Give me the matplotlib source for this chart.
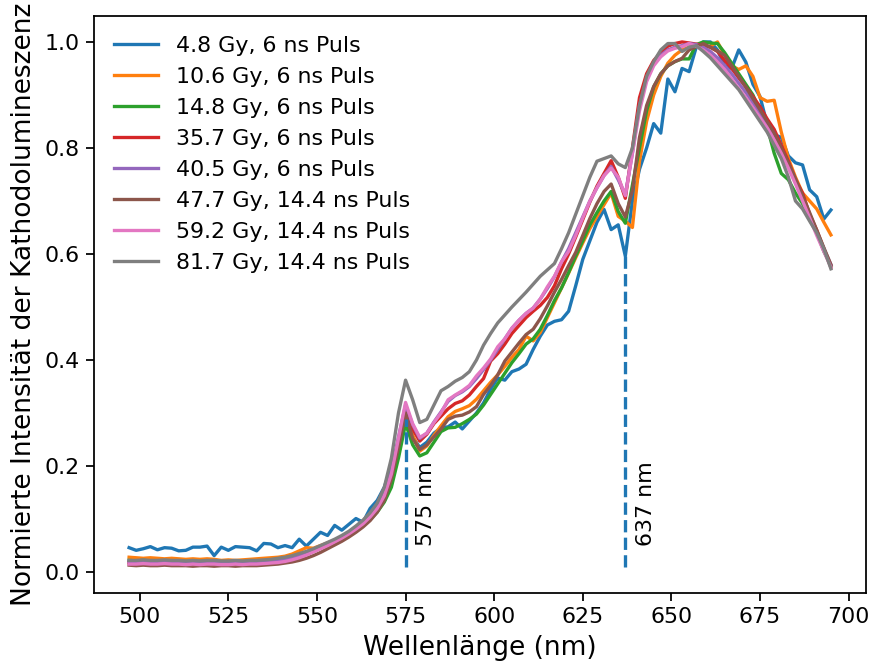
import numpy as np
import matplotlib
matplotlib.use("Agg")
import matplotlib.pyplot as plt

# Wellenlaenge in nm (2 nm Schritte)
wl = np.arange(497, 697, 2)

labels = ["4.8 Gy, 6 ns Puls", "10.6 Gy, 6 ns Puls", "14.8 Gy, 6 ns Puls",
          "35.7 Gy, 6 ns Puls", "40.5 Gy, 6 ns Puls", "47.7 Gy, 14.4 ns Puls",
          "59.2 Gy, 14.4 ns Puls", "81.7 Gy, 14.4 ns Puls"]

gy4_8 = [0.046, 0.041, 0.044, 0.048, 0.042, 0.046, 0.045, 0.040, 0.041, 0.047,
         0.047, 0.049, 0.031, 0.047, 0.041, 0.048, 0.047, 0.046, 0.040, 0.054,
         0.053, 0.046, 0.050, 0.046, 0.062, 0.049, 0.062, 0.075, 0.069, 0.088,
         0.079, 0.090, 0.101, 0.094, 0.120, 0.135, 0.160, 0.200, 0.245, 0.288,
         0.255, 0.235, 0.245, 0.262, 0.272, 0.274, 0.283, 0.270, 0.285, 0.300,
         0.319, 0.345, 0.366, 0.362, 0.378, 0.383, 0.392, 0.420, 0.445, 0.466,
         0.473, 0.476, 0.492, 0.540, 0.590, 0.625, 0.660, 0.684, 0.646, 0.655,
         0.596, 0.700, 0.760, 0.800, 0.846, 0.828, 0.930, 0.906, 0.950, 0.944,
         0.990, 1.000, 1.000, 0.985, 0.955, 0.950, 0.985, 0.962, 0.920, 0.897,
         0.845, 0.825, 0.820, 0.785, 0.772, 0.768, 0.721, 0.708, 0.666, 0.683]

gy10_6 = [0.028, 0.027, 0.026, 0.027, 0.026, 0.025, 0.026, 0.025, 0.024, 0.025,
          0.024, 0.025, 0.024, 0.022, 0.023, 0.022, 0.023, 0.024, 0.025, 0.026,
          0.027, 0.028, 0.030, 0.034, 0.040, 0.046, 0.045, 0.050, 0.055, 0.060,
          0.066, 0.073, 0.081, 0.090, 0.103, 0.118, 0.140, 0.180, 0.240, 0.300,
          0.258, 0.228, 0.238, 0.258, 0.276, 0.293, 0.303, 0.308, 0.314, 0.326,
          0.342, 0.358, 0.372, 0.388, 0.405, 0.420, 0.445, 0.436, 0.452, 0.480,
          0.508, 0.536, 0.564, 0.593, 0.621, 0.648, 0.671, 0.693, 0.715, 0.671,
          0.662, 0.650, 0.775, 0.850, 0.900, 0.935, 0.960, 0.975, 0.985, 0.990,
          0.995, 0.990, 0.992, 1.000, 0.975, 0.955, 0.948, 0.955, 0.935, 0.895,
          0.888, 0.890, 0.830, 0.780, 0.745, 0.715, 0.700, 0.685, 0.660, 0.636]

gy14_8 = [0.022, 0.021, 0.022, 0.021, 0.020, 0.021, 0.020, 0.021, 0.020, 0.019,
          0.020, 0.019, 0.020, 0.019, 0.019, 0.020, 0.019, 0.020, 0.020, 0.021,
          0.021, 0.022, 0.024, 0.027, 0.031, 0.036, 0.041, 0.046, 0.052, 0.058,
          0.064, 0.071, 0.079, 0.088, 0.099, 0.113, 0.132, 0.160, 0.215, 0.280,
          0.240, 0.219, 0.225, 0.245, 0.265, 0.272, 0.273, 0.280, 0.288, 0.298,
          0.315, 0.335, 0.355, 0.375, 0.395, 0.412, 0.430, 0.440, 0.458, 0.484,
          0.512, 0.536, 0.565, 0.596, 0.625, 0.655, 0.678, 0.700, 0.718, 0.680,
          0.658, 0.730, 0.800, 0.870, 0.915, 0.940, 0.955, 0.963, 0.968, 0.968,
          0.995, 1.000, 0.998, 0.997, 0.980, 0.960, 0.940, 0.920, 0.900, 0.870,
          0.840, 0.790, 0.752, 0.740, 0.715, 0.695, 0.665, 0.640, 0.605, 0.578]

gy35_7 = [0.018, 0.017, 0.018, 0.017, 0.018, 0.017, 0.017, 0.018, 0.017, 0.016,
          0.017, 0.016, 0.017, 0.016, 0.016, 0.017, 0.016, 0.017, 0.017, 0.018,
          0.019, 0.020, 0.022, 0.025, 0.029, 0.034, 0.039, 0.045, 0.051, 0.058,
          0.065, 0.073, 0.082, 0.092, 0.105, 0.121, 0.143, 0.180, 0.245, 0.310,
          0.270, 0.247, 0.260, 0.280, 0.294, 0.308, 0.318, 0.323, 0.334, 0.350,
          0.365, 0.398, 0.412, 0.430, 0.450, 0.465, 0.480, 0.492, 0.503, 0.518,
          0.540, 0.572, 0.600, 0.632, 0.665, 0.698, 0.728, 0.752, 0.776, 0.745,
          0.705, 0.800, 0.895, 0.940, 0.965, 0.980, 0.992, 0.997, 1.000, 0.998,
          0.996, 0.993, 0.990, 0.982, 0.965, 0.950, 0.932, 0.915, 0.897, 0.878,
          0.855, 0.835, 0.805, 0.775, 0.740, 0.715, 0.675, 0.645, 0.610, 0.575]

gy40_5 = [0.020, 0.019, 0.020, 0.019, 0.019, 0.020, 0.019, 0.019, 0.018, 0.019,
          0.018, 0.018, 0.019, 0.018, 0.018, 0.019, 0.018, 0.019, 0.019, 0.020,
          0.021, 0.022, 0.024, 0.027, 0.031, 0.036, 0.041, 0.047, 0.053, 0.060,
          0.067, 0.075, 0.084, 0.094, 0.107, 0.124, 0.148, 0.190, 0.255, 0.315,
          0.278, 0.252, 0.262, 0.283, 0.302, 0.322, 0.333, 0.340, 0.350, 0.365,
          0.382, 0.400, 0.420, 0.440, 0.460, 0.475, 0.488, 0.498, 0.515, 0.535,
          0.557, 0.585, 0.610, 0.640, 0.670, 0.700, 0.725, 0.748, 0.765, 0.740,
          0.712, 0.790, 0.880, 0.930, 0.958, 0.975, 0.985, 0.990, 0.993, 0.997,
          0.995, 0.990, 0.982, 0.970, 0.955, 0.940, 0.922, 0.905, 0.885, 0.865,
          0.845, 0.822, 0.795, 0.770, 0.740, 0.705, 0.672, 0.640, 0.610, 0.580]

gy47_7 = [0.013, 0.012, 0.013, 0.012, 0.012, 0.013, 0.012, 0.012, 0.012, 0.011,
          0.012, 0.012, 0.011, 0.012, 0.012, 0.011, 0.012, 0.012, 0.012, 0.013,
          0.014, 0.015, 0.017, 0.019, 0.022, 0.026, 0.031, 0.037, 0.044, 0.051,
          0.058, 0.066, 0.075, 0.085, 0.097, 0.113, 0.135, 0.175, 0.235, 0.300,
          0.252, 0.231, 0.240, 0.255, 0.270, 0.288, 0.294, 0.296, 0.302, 0.312,
          0.335, 0.352, 0.372, 0.398, 0.415, 0.432, 0.448, 0.458, 0.478, 0.502,
          0.528, 0.552, 0.578, 0.603, 0.635, 0.667, 0.695, 0.718, 0.732, 0.695,
          0.670, 0.720, 0.820, 0.880, 0.916, 0.940, 0.955, 0.963, 0.969, 0.985,
          0.991, 0.997, 0.990, 0.983, 0.975, 0.955, 0.935, 0.915, 0.893, 0.872,
          0.850, 0.828, 0.800, 0.772, 0.742, 0.710, 0.678, 0.645, 0.612, 0.580]

gy59_2 = [0.015, 0.015, 0.016, 0.015, 0.015, 0.016, 0.015, 0.015, 0.014, 0.015,
          0.014, 0.015, 0.015, 0.014, 0.014, 0.015, 0.014, 0.015, 0.015, 0.016,
          0.017, 0.018, 0.020, 0.023, 0.027, 0.032, 0.038, 0.044, 0.050, 0.057,
          0.064, 0.072, 0.081, 0.091, 0.104, 0.120, 0.144, 0.185, 0.252, 0.320,
          0.280, 0.254, 0.262, 0.282, 0.300, 0.325, 0.334, 0.342, 0.352, 0.370,
          0.385, 0.402, 0.425, 0.440, 0.460, 0.475, 0.488, 0.498, 0.515, 0.538,
          0.558, 0.585, 0.605, 0.635, 0.668, 0.700, 0.725, 0.748, 0.762, 0.745,
          0.710, 0.790, 0.870, 0.925, 0.955, 0.972, 0.983, 0.988, 0.991, 0.997,
          0.992, 0.985, 0.975, 0.962, 0.948, 0.930, 0.912, 0.895, 0.876, 0.857,
          0.838, 0.815, 0.790, 0.762, 0.732, 0.700, 0.668, 0.635, 0.605, 0.575]

gy81_7 = [0.022, 0.022, 0.023, 0.022, 0.022, 0.023, 0.022, 0.022, 0.021, 0.022,
          0.021, 0.022, 0.022, 0.021, 0.021, 0.022, 0.021, 0.022, 0.022, 0.023,
          0.024, 0.026, 0.028, 0.031, 0.035, 0.039, 0.044, 0.050, 0.056, 0.062,
          0.069, 0.077, 0.087, 0.098, 0.112, 0.130, 0.160, 0.215, 0.300, 0.362,
          0.325, 0.282, 0.288, 0.315, 0.342, 0.350, 0.360, 0.367, 0.378, 0.400,
          0.428, 0.450, 0.470, 0.485, 0.500, 0.514, 0.528, 0.543, 0.558, 0.570,
          0.582, 0.610, 0.640, 0.675, 0.710, 0.745, 0.775, 0.780, 0.785, 0.770,
          0.763, 0.800, 0.880, 0.935, 0.963, 0.985, 0.997, 0.997, 0.982, 0.990,
          0.993, 0.982, 0.970, 0.955, 0.940, 0.925, 0.910, 0.890, 0.870, 0.850,
          0.830, 0.805, 0.780, 0.745, 0.700, 0.685, 0.662, 0.640, 0.610, 0.572]

series = [gy4_8, gy10_6, gy14_8, gy35_7, gy40_5, gy47_7, gy59_2, gy81_7]

# markierte Peaks
peaks = [575, 637]
peak_labels = ["575 nm", "637 nm"]

s = 1.17  # the original was rendered a bit larger
plt.rcParams["font.size"] = 10 * s
plt.rcParams["lines.linewidth"] = 1.5 * s
plt.rcParams["axes.linewidth"] = 0.8 * s
for a in ("xtick", "ytick"):
    plt.rcParams[a + ".major.size"] = 3.5 * s
    plt.rcParams[a + ".major.width"] = 0.8 * s

fig = plt.figure(figsize=(871 / 136, 664 / 136), dpi=136)
ax = fig.add_axes([94 / 871, 1 - 593 / 664, (866 - 94) / 871, (593 - 15.7) / 664])

for ys, lab in zip(series, labels):
    ax.plot(wl, ys, label=lab)

for p, txt in zip(peaks, peak_labels):
    top = gy4_8[list(wl).index(p)]
    ax.vlines(p, 0.01, top, colors="C0", linestyles="dashed")
    ax.text(p + 3, 0.05, txt, rotation=90, ha="left", va="bottom")

ax.set_xlabel("Wellenlänge (nm)", fontsize=12 * s)
ax.set_ylabel("Normierte Intensität der Kathodolumineszenz", fontsize=12 * s)
ax.legend(loc="upper left", frameon=False)

fig.savefig("out.png", dpi=136)
